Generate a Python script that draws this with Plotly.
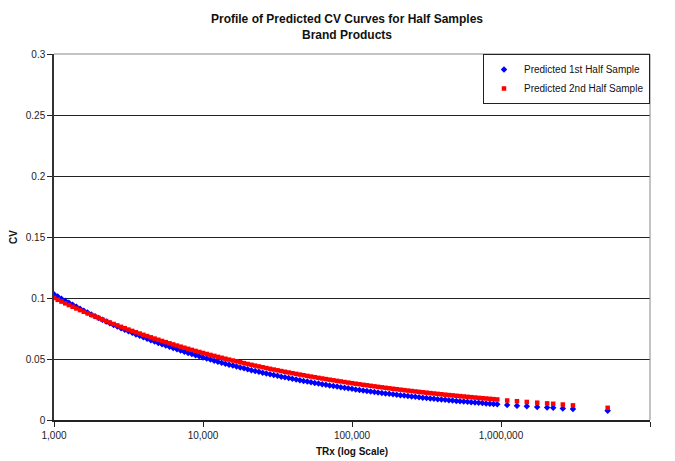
import plotly.graph_objects as go

# mantissas for x positions within a decade (read along the dense band)
mant = [1.000, 1.059, 1.122, 1.189, 1.259, 1.334, 1.413, 1.496, 1.585, 1.679,
        1.778, 1.884, 1.995, 2.113, 2.239, 2.371, 2.512, 2.661, 2.818, 2.985,
        3.162, 3.350, 3.548, 3.758, 3.981, 4.217, 4.467, 4.732, 5.012, 5.309,
        5.623, 5.957, 6.310, 6.683, 7.079, 7.499, 7.943, 8.414, 8.913, 9.441]

tail_x = [1100000, 1280000, 1490000, 1750000, 2040000, 2240000, 2600000, 3040000, 5200000]

trx = [m * 1000 for m in mant] + [m * 10000 for m in mant] + [m * 100000 for m in mant] + tail_x

cv_first = [
    0.1030, 0.10122, 0.09947, 0.09775, 0.09606, 0.09440, 0.09277, 0.09116, 0.08959, 0.08804,
    0.08652, 0.08502, 0.08355, 0.08211, 0.08069, 0.07929, 0.07792, 0.07658, 0.07525, 0.07395,
    0.07267, 0.07142, 0.07018, 0.06897, 0.06778, 0.06660, 0.06545, 0.06432, 0.06321, 0.06212,
    0.06104, 0.05999, 0.05895, 0.05793, 0.05693, 0.05594, 0.05498, 0.05403, 0.05309, 0.05217,
    0.05127, 0.05039, 0.04952, 0.04866, 0.04782, 0.04699, 0.04618, 0.04538, 0.04460, 0.04383,
    0.04307, 0.04232, 0.04159, 0.04087, 0.04017, 0.03947, 0.03879, 0.03812, 0.03746, 0.03681,
    0.03618, 0.03555, 0.03494, 0.03433, 0.03374, 0.03315, 0.03258, 0.03202, 0.03147, 0.03092,
    0.03039, 0.02986, 0.02935, 0.02884, 0.02834, 0.02785, 0.02737, 0.02690, 0.02643, 0.02597,
    0.02552, 0.02508, 0.02465, 0.02422, 0.02380, 0.02339, 0.02299, 0.02259, 0.02220, 0.02182,
    0.02144, 0.02107, 0.02070, 0.02034, 0.02000, 0.01965, 0.01931, 0.01898, 0.01865, 0.01832,
    0.01801, 0.01770, 0.01739, 0.01709, 0.01680, 0.01650, 0.01622, 0.01594, 0.01567, 0.01539,
    0.01513, 0.01486, 0.01461, 0.01436, 0.01411, 0.01386, 0.01362, 0.01339, 0.01316, 0.01293,
    0.01234, 0.01178, 0.01125, 0.01072, 0.01023, 0.00995, 0.00951, 0.00907, 0.00750,
]

cv_second = [
    0.1000, 0.09851, 0.09705, 0.09561, 0.09419, 0.09279, 0.09141, 0.09006, 0.08872, 0.08740,
    0.08610, 0.08482, 0.08356, 0.08232, 0.08110, 0.07989, 0.07870, 0.07753, 0.07638, 0.07525,
    0.07413, 0.07303, 0.07194, 0.07087, 0.06982, 0.06879, 0.06776, 0.06676, 0.06577, 0.06479,
    0.06383, 0.06288, 0.06194, 0.06102, 0.06012, 0.05922, 0.05834, 0.05748, 0.05662, 0.05578,
    0.05495, 0.05414, 0.05333, 0.05254, 0.05176, 0.05099, 0.05023, 0.04949, 0.04876, 0.04803,
    0.04732, 0.04661, 0.04592, 0.04524, 0.04457, 0.04390, 0.04325, 0.04261, 0.04197, 0.04135,
    0.04074, 0.04013, 0.03953, 0.03895, 0.03837, 0.03780, 0.03724, 0.03669, 0.03614, 0.03561,
    0.03508, 0.03455, 0.03404, 0.03353, 0.03304, 0.03254, 0.03206, 0.03159, 0.03112, 0.03065,
    0.03020, 0.02975, 0.02931, 0.02887, 0.02844, 0.02802, 0.02760, 0.02720, 0.02679, 0.02640,
    0.02600, 0.02562, 0.02524, 0.02486, 0.02449, 0.02413, 0.02377, 0.02341, 0.02307, 0.02272,
    0.02239, 0.02205, 0.02173, 0.02140, 0.02109, 0.02077, 0.02046, 0.02016, 0.01986, 0.01957,
    0.01928, 0.01899, 0.01871, 0.01843, 0.01815, 0.01788, 0.01762, 0.01736, 0.01710, 0.01685,
    0.01600, 0.01540, 0.01480, 0.01420, 0.01365, 0.01330, 0.01270, 0.01200, 0.01000,
]

x_tickvals = [1000, 10000, 100000, 1000000, 10000000]
x_ticktext = ["1,000", "10,000", "100,000", "1,000,000", "10,000,000"]

font_family = "Liberation Sans, Arial, sans-serif"

fig = go.Figure()
fig.add_trace(go.Scatter(
    x=trx, y=cv_first, mode="markers", name="Predicted 1st Half Sample",
    marker=dict(symbol="diamond", size=5, color="#0000FF", line=dict(width=0)),
))
fig.add_trace(go.Scatter(
    x=trx, y=cv_second, mode="markers", name="Predicted 2nd Half Sample",
    marker=dict(symbol="square", size=4.5, color="#FF0000", line=dict(width=0)),
))

fig.update_layout(
    width=675, height=461,
    margin=dict(l=54, r=25, t=54, b=41, autoexpand=False),
    paper_bgcolor="white", plot_bgcolor="white",
    font=dict(family=font_family, size=10, color="#222222"),
    title=dict(
        text="<b>Profile of Predicted CV Curves for Half Samples<br>Brand Products</b>",
        x=0.4916, xanchor="center", xref="paper",
        y=1 - 23 / 461, yanchor="middle", yref="container",
        font=dict(family=font_family, size=12, color="#111111"),
    ),
    legend=dict(
        x=1, y=1, xanchor="right", yanchor="top",
        bgcolor="white", bordercolor="#222222", borderwidth=1,
        font=dict(family=font_family, size=10, color="#111111"),
        itemwidth=30, tracegroupgap=0,
    ),
    showlegend=True,
)

fig.update_xaxes(
    type="log", range=[3, 7], automargin=False,
    tickvals=x_tickvals, ticktext=x_ticktext,
    showgrid=False, zeroline=False,
    showline=True, linecolor="#222222", linewidth=1.5,
    ticks="outside", ticklen=5, tickcolor="#222222",
    title=dict(text="<b>TRx (log Scale)</b>", standoff=8,
               font=dict(family=font_family, size=10, color="#111111")),
)
fig.update_yaxes(
    range=[0, 0.3], dtick=0.05, tick0=0, automargin=False,
    showgrid=True, gridcolor="#222222", gridwidth=1,
    zeroline=False,
    showline=True, linecolor="#333333", linewidth=1.5,
    ticks="outside", ticklen=5, tickcolor="#222222",
    title=dict(text="<b>CV</b>", standoff=6,
               font=dict(family=font_family, size=10, color="#111111")),
)

# gray top and right plot border
fig.add_shape(type="line", xref="paper", yref="paper", x0=0, x1=1, y0=1, y1=1,
              line=dict(color="#888888", width=1), layer="above")
fig.add_shape(type="line", xref="paper", yref="paper", x0=1, x1=1, y0=0, y1=1,
              line=dict(color="#888888", width=1), layer="above")

fig.write_html("out.html")
